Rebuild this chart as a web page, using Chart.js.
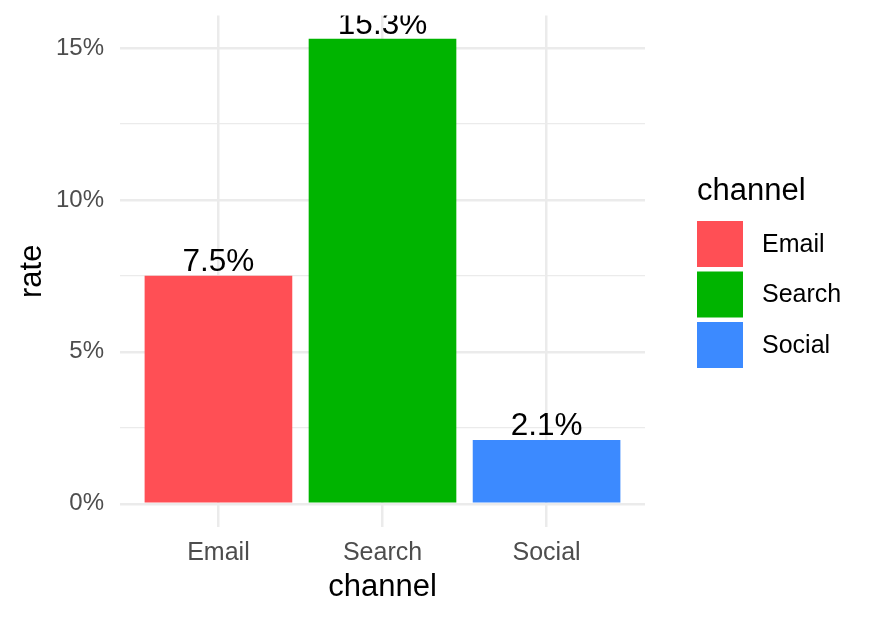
<!DOCTYPE html>
<html>
<head>
<meta charset="utf-8">
<script src="https://cdn.jsdelivr.net/npm/chart.js@4"></script>
<style>
  html, body { margin: 0; padding: 0; background: #ffffff; }
  #wrap { width: 874px; height: 620px; position: relative; }
</style>
</head>
<body>
<div id="wrap"><canvas id="c" width="874" height="620"></canvas></div>
<script>
// ---- data ----
const categories = ["Email", "Search", "Social"];
const rates = [7.5, 15.3, 2.1];
const barColors = ["#FF4F55", "#00B400", "#3C8AFF"];
const yTickValues = [0, 2.5, 5, 7.5, 10, 12.5, 15];
const yLabelValues = [0, 5, 10, 15];
const xTitle = "channel";
const yTitle = "rate";
const legendTitle = "channel";

const FONT = "'Liberation Sans', Arial, Helvetica, sans-serif";
const GRID = "#EBEBEB";

// ggplot-like expansions
const yMax = Math.max(...rates);
const yExp = (yMax - 0) * 0.05;

const points = rates.map((v, i) => ({ x: i + 1, y: v }));

const barLabelPlugin = {
  id: 'barLabels',
  afterDatasetsDraw(chart) {
    const ctx = chart.ctx;
    const meta = chart.getDatasetMeta(0);
    const a = chart.chartArea;
    ctx.save();
    ctx.beginPath();
    ctx.rect(a.left, a.top, a.right - a.left, a.bottom - a.top);
    ctx.clip();
    ctx.fillStyle = '#000000';
    ctx.font = "31.5px " + FONT;
    ctx.textAlign = 'center';
    ctx.textBaseline = 'alphabetic';
    meta.data.forEach((bar, i) => {
      ctx.fillText(rates[i].toFixed(1) + '%', bar.x, bar.y - 5);
    });
    ctx.restore();
  }
};

const legendPlugin = {
  id: 'customLegend',
  afterDraw(chart) {
    const ctx = chart.ctx;
    ctx.save();
    const x0 = 697;
    ctx.fillStyle = '#000000';
    ctx.font = "31px " + FONT;
    ctx.textAlign = 'left';
    ctx.textBaseline = 'alphabetic';
    ctx.fillText(legendTitle, x0, 200);
    categories.forEach((c, i) => {
      const top = 221 + i * 50.5;
      ctx.fillStyle = barColors[i];
      ctx.fillRect(x0, top, 46, 46);
      ctx.fillStyle = '#000000';
      ctx.font = "25px " + FONT;
      ctx.textBaseline = 'middle';
      ctx.fillText(c, 762, top + 24);
    });
    ctx.restore();
  }
};

new Chart(document.getElementById('c'), {
  type: 'bar',
  data: {
    datasets: [{
      data: points,
      backgroundColor: barColors,
      borderWidth: 0,
      barPercentage: 0.9,
      categoryPercentage: 1.0
    }]
  },
  options: {
    responsive: false,
    animation: false,
    devicePixelRatio: 1,
    layout: { padding: { top: 15.6, right: 229, bottom: 0, left: 0 } },
    plugins: {
      legend: { display: false },
      tooltip: { enabled: false }
    },
    scales: {
      x: {
        type: 'linear',
        min: 0.4,
        max: 3.6,
        offset: false,
        afterFit(scale) { scale.height = 93; scale.paddingLeft = 0; scale.paddingRight = 0; },
        afterBuildTicks(scale) { scale.ticks = categories.map((c, i) => ({ value: i + 1 })); },
        ticks: {
          color: '#4D4D4D',
          font: { family: FONT, size: 25 },
          padding: 11,
          maxRotation: 0,
          autoSkip: false,
          callback: (v) => categories[Math.round(v) - 1]
        },
        grid: { color: GRID, lineWidth: 2.5, drawTicks: false, offset: false },
        border: { display: false },
        title: {
          display: true, text: xTitle, color: '#000000',
          font: { family: FONT, size: 31 },
          padding: { top: 0, bottom: 14 }
        }
      },
      y: {
        type: 'linear',
        min: 0 - yExp,
        max: yMax + yExp,
        afterFit(scale) { scale.width = 120; scale.paddingTop = 0; scale.paddingBottom = 0; },
        afterBuildTicks(scale) { scale.ticks = yTickValues.map(v => ({ value: v })); },
        ticks: {
          color: '#4D4D4D',
          font: { family: FONT, size: 24 },
          padding: 16,
          autoSkip: false,
          callback: (v) => yLabelValues.includes(v) ? v + '%' : ''
        },
        grid: {
          color: GRID,
          drawTicks: false,
          lineWidth: (ctx) => (ctx.tick && yLabelValues.includes(ctx.tick.value)) ? 2.5 : 1.3
        },
        border: { display: false },
        title: {
          display: true, text: yTitle, color: '#000000',
          font: { family: FONT, size: 31 },
          padding: { top: 14, bottom: 0 }
        }
      }
    }
  },
  plugins: [barLabelPlugin, legendPlugin]
});
</script>
</body>
</html>
